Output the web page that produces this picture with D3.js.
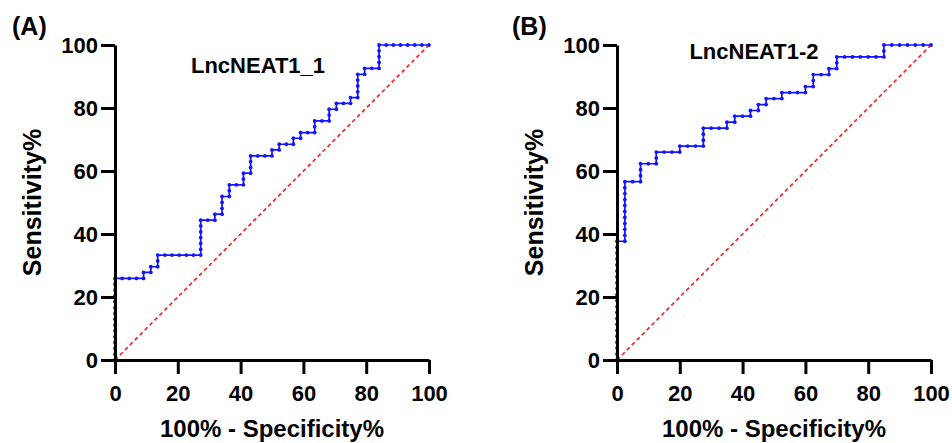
<!DOCTYPE html>
<html>
<head>
<meta charset="utf-8">
<script src="https://cdn.jsdelivr.net/npm/d3@7"></script>
<style>
  html, body { margin: 0; padding: 0; background: #fff; }
  svg text { font-family: 'Liberation Sans', Arial, sans-serif; font-weight: bold; fill: #000; }
  .axis path, .axis line { stroke: #000; stroke-width: 3px; }
  .axis text { font-size: 22px; }
</style>
</head>
<body>
<svg id="chart" width="952" height="443"></svg>
<script>
// ROC corner points (100% - Specificity%, Sensitivity%)
const fprA  = [0, 0, 9.1, 11.4, 13.6, 27.3, 31.8, 34.1, 36.4, 40.9, 43.2, 50, 52.3, 56.8, 59.1, 63.6, 68.2, 70.5, 75, 77.3, 79.5, 84.1, 100];
const sensA = [0, 25.9, 27.8, 29.6, 33.3, 44.4, 46.3, 51.9, 55.6, 59.3, 64.8, 66.7, 68.5, 70.4, 72.2, 75.9, 79.6, 81.5, 83.3, 90.7, 92.6, 100, 100];
const fprB  = [0, 0, 2.5, 7.5, 12.5, 20, 27.5, 35, 37.5, 42.5, 45, 47.5, 52.5, 60, 62.5, 67.5, 70, 85, 100];
const sensB = [0, 37.7, 56.6, 62.3, 66.0, 67.9, 73.6, 75.5, 77.4, 79.2, 81.1, 83.0, 84.9, 86.8, 90.6, 92.5, 96.2, 100, 100];
// group sizes (controls, cases) -> one symbol per cutoff
const groupsA = [44, 54];
const groupsB = [40, 53];
const ticks = [0, 20, 40, 60, 80, 100];
const panels = [
  { tag: '(A)', title: 'LncNEAT1_1', fpr: fprA, sens: sensA, groups: groupsA, left: 115, tagX: 12, titleX: 258, titleY: 73 },
  { tag: '(B)', title: 'LncNEAT1-2', fpr: fprB, sens: sensB, groups: groupsB, left: 617, tagX: 512, titleX: 754, titleY: 59 }
];

const svg = d3.select('#chart');
const plotW = 314, plotTop = 45, plotBottom = 360;

panels.forEach(p => {
  const x = d3.scaleLinear().domain([0, 100]).range([p.left, p.left + plotW]);
  const y = d3.scaleLinear().domain([0, 100]).range([plotBottom, plotTop]);
  const g = svg.append('g');

  // chance line
  g.append('line')
    .attr('x1', x(0)).attr('y1', y(0)).attr('x2', x(100)).attr('y2', y(100))
    .attr('stroke', '#ff1a1a').attr('stroke-width', 1.6).attr('stroke-dasharray', '4,3');

  const pts = p.fpr.map((v, i) => [v, p.sens[i]]);
  const line = d3.line().x(d => x(d[0])).y(d => y(d[1])).curve(d3.curveStepAfter);
  g.append('path').datum(pts)
    .attr('d', line).attr('fill', 'none').attr('stroke', '#1414ff').attr('stroke-width', 1.7);

  // one symbol per cutoff along the staircase
  const dx = 100 / p.groups[0], dy = 100 / p.groups[1];
  const dots = [[pts[0][0], pts[0][1]]];
  for (let i = 1; i < pts.length; i++) {
    const [xa, ya] = pts[i - 1], [xb, yb] = pts[i];
    const nh = Math.round((xb - xa) / dx);
    for (let k = 1; k <= nh; k++) dots.push([xa + (xb - xa) * k / nh, ya]);
    const nv = Math.round((yb - ya) / dy);
    for (let k = 1; k <= nv; k++) dots.push([xb, ya + (yb - ya) * k / nv]);
  }
  g.selectAll('circle').data(dots).join('circle')
    .attr('cx', d => x(d[0])).attr('cy', d => y(d[1])).attr('r', 1.9)
    .attr('fill', '#1414ff');

  // axes
  g.append('g').attr('class', 'axis')
    .attr('transform', `translate(0,${plotBottom})`)
    .call(d3.axisBottom(x).tickValues(ticks).tickSize(14).tickSizeOuter(0).tickPadding(11));
  g.append('g').attr('class', 'axis')
    .attr('transform', `translate(${p.left},0)`)
    .call(d3.axisLeft(y).tickValues(ticks).tickSize(14).tickSizeOuter(0).tickPadding(3));

  g.append('text').attr('x', x(50)).attr('y', 437)
    .attr('text-anchor', 'middle').style('font-size', '24px')
    .text('100% - Specificity%');
  g.append('text')
    .attr('transform', `translate(${p.left - 74},${(plotTop + plotBottom) / 2}) rotate(-90)`)
    .attr('text-anchor', 'middle').style('font-size', '25px')
    .text('Sensitivity%');
  g.append('text').attr('x', p.titleX).attr('y', p.titleY)
    .attr('text-anchor', 'middle').style('font-size', '22px')
    .text(p.title);
  g.append('text').attr('x', p.tagX).attr('y', 35).style('font-size', '25px')
    .text(p.tag);
});
</script>
</body>
</html>
